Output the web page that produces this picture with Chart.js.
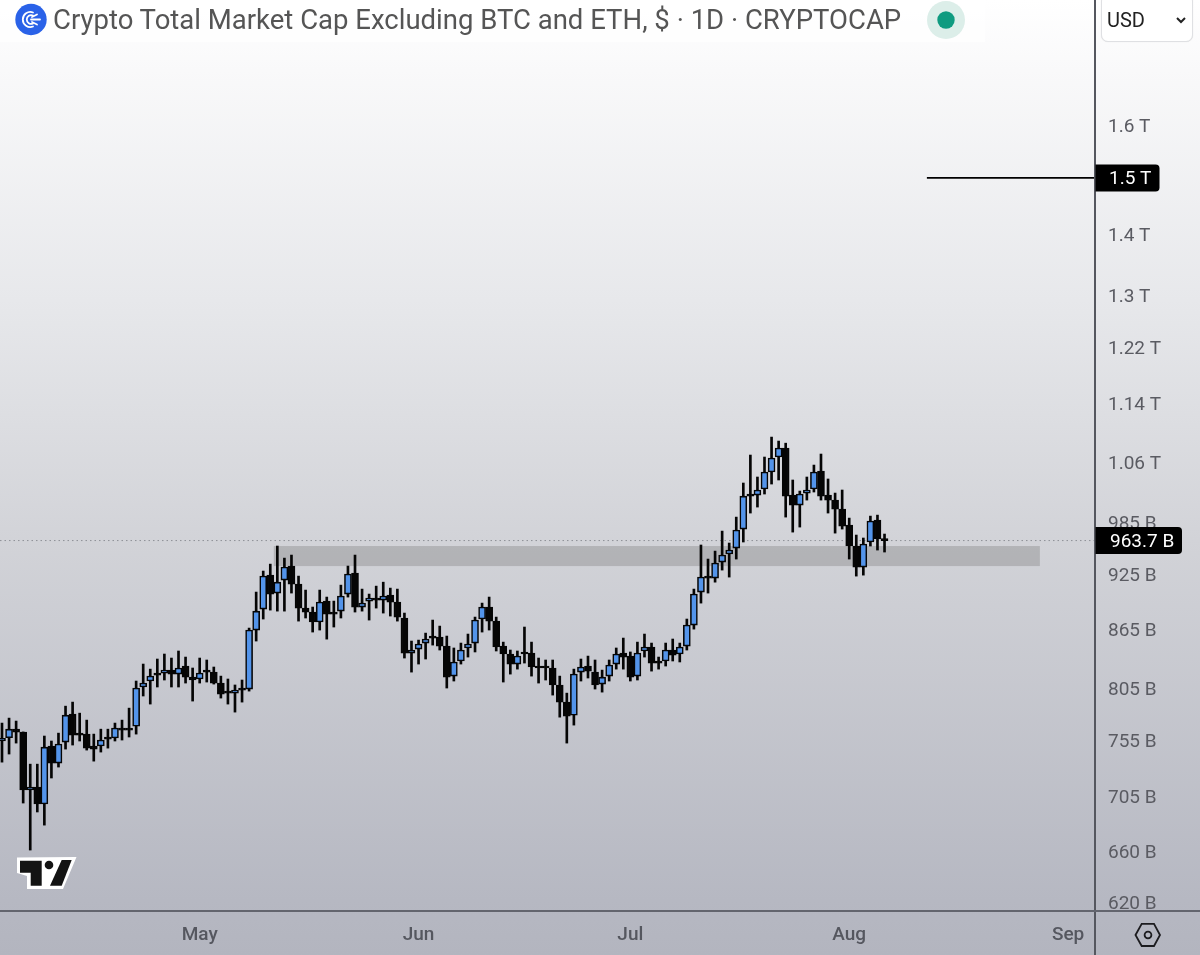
<!DOCTYPE html>
<html><head><meta charset="utf-8">
<script src="https://cdn.jsdelivr.net/npm/chart.js@4"></script>
<style>
html,body{margin:0;padding:0;width:1200px;height:955px;overflow:hidden}
body{position:relative;background:linear-gradient(180deg,#ffffff 0px,#f9f9fa 70px,#e7e8eb 300px,#d2d3d8 540px,#b6b8c2 900px,#b3b5bf 955px);font-family:Roboto,sans-serif}
canvas{position:absolute;left:0;top:0;display:block}
.ab{position:absolute}
#band{left:0;top:0;width:985px;height:42px;background:rgba(255,255,255,.65)}
#title{left:53px;top:3px;font-size:27.5px;line-height:34px;color:#555;white-space:nowrap}
#usd{left:1101px;top:-6px;width:90px;height:46px;background:#fff;border:1px solid #dfe0e3;border-radius:7px;box-shadow:0 0 1px #ddd}
#usdt{left:1107px;top:8px;font-size:20px;line-height:24px;color:#222}
#vline{left:1094px;top:0;width:1.5px;height:955px;background:#55575f}
#hline{left:0;top:910px;width:1200px;height:1.5px;background:#63656e}
</style></head><body>
<div class="ab" id="band"></div>
<div class="ab" id="vline"></div><div class="ab" id="hline"></div>
<div class="ab" id="usd"></div>
<canvas id="c" width="1200" height="955"></canvas>
<svg class="ab" style="left:0;top:0" width="1200" height="955" viewBox="0 0 1200 955">
  <circle cx="31" cy="19.5" r="15.7" fill="#2a62e8"/>
  <g fill="none" stroke="#fff" stroke-width="1.8" stroke-linecap="round">
    <path d="M33 12.5a7.5 7.5 0 1 0 0 14"/>
    <path d="M33 15.5a4.4 4.4 0 1 0 0 8"/>
    <path d="M31 19.500h9M32 17l5-2.500M32 22l5 2.500"/>
  </g>
  <circle cx="946" cy="20" r="19" fill="#dceee9"/><circle cx="946" cy="20" r="8.7" fill="#0f9b80"/>
  <path d="M1177 18l4 4 4-4" fill="none" stroke="#222" stroke-width="2"/>
  <path d="M17 857.5L76.500 857L63 889H27V876L17 873Z" fill="#fff"/>
  <path d="M20 860.700H41.700V885.700H30.700V872.700H20Z" fill="#131313"/>
  <circle cx="49" cy="865" r="4.300" fill="#131313"/>
  <path d="M61.700 860H71.700L61.700 885.700H50Z" fill="#131313"/>
  <path d="M1135.500 935L1141.700 923.800H1154L1160 935L1154 946H1141.700Z" fill="none" stroke="#1c1c1f" stroke-width="1.800"/>
  <circle cx="1148" cy="935" r="3.400" fill="none" stroke="#1c1c1f" stroke-width="1.800"/>
</svg>
<div class="ab" id="title">Crypto Total Market Cap Excluding BTC and ETH, $ · 1D · CRYPTOCAP</div>
<div class="ab" id="usdt">USD</div>
<script>
const opens=[754.6,757.6,765.6,762.9,710.8,713.4,698.8,750,734.5,753.6,779.8,761,761,750,750,758.3,757.4,766.6,766.6,768.4,806,811.9,818.8,819.8,822.8,818.8,826.9,815.8,813.9,821.8,820.8,809.9,801,800,804,804,864,886.4,923.9,903.9,918.3,934.2,913.8,887.5,883.2,872.5,895.1,883.2,884.2,902.8,926.2,888.6,895.1,898.4,896.2,901.7,894,876.8,840.1,844.2,850.4,856.6,856.6,847.3,816.8,832,845.3,850.4,875.7,888.6,873.5,847.3,839.1,828.9,840.1,840.1,825.9,825.9,824.9,808,791.3,778.8,820.8,826.9,820.8,808.9,816.8,828.9,840.1,837,816.8,842.2,846.3,831,832,843.2,839.1,847.3,869.3,905,922.8,920.6,938.7,948,954.9,977.3,1020,1018.7,1026.3,1047.8,1067.1,1078.8,1018.7,1006.3,1021.2,1026.3,1049,1018.7,1012.5,1001.4,982,957.3,933,962,988.1,965.5];
const highs=[771.3,776,773.2,763,733.6,733.6,759.2,754.6,761.9,787.4,791.3,780.7,774.1,761,765.6,765.6,771.3,774.1,785.5,811.9,828.9,823.8,834,839.1,835,842.2,836,824.9,835,833,825.9,816.8,813.9,808,812.9,866.1,905,928.5,936.4,957.3,943.3,946.8,922.8,907.2,888.6,907.2,899.5,895.1,912.7,934.2,946.8,908.3,902.8,911.6,916,909.4,908.3,882.1,852.5,853.5,860.8,874.6,868.2,857.7,845.3,850.4,859.8,877.8,892.9,899.5,877.8,851.4,843.2,842.2,867.2,851.4,835,833,833,816.8,800,823.8,834,837,833,822.8,833,845.3,855.6,841.2,851.4,859.8,850.4,836,850.4,854.6,850.4,875.7,908.3,958.5,942.2,951.4,974.9,960.8,991.7,1033.8,1069.7,1041.4,1067.1,1093.4,1088.1,1085.3,1037.6,1023.7,1041.4,1056.7,1071,1038.9,1021.2,1025,990.5,970.2,966.7,992.9,994.1,971.4];
const lows=[735.4,742.7,752.7,699.6,660.6,692,681,721.3,731,747.2,750.9,754.6,746.3,736.3,744.5,748.1,754.6,755.5,758.3,761,797.2,789.4,806,812.9,806,806,809.9,792.3,809.9,810.9,808.9,795.2,789.4,781.7,791.3,802,852.5,875.7,885.3,884.2,884.2,903.9,873.5,876.8,861.9,864,854.5,867.2,876.8,899.5,883.2,884.2,874.6,887.5,882.1,878.9,873.5,835,820.8,828.9,834,848.3,843.2,805,811.9,828.9,836,841.2,861.9,864,842.2,810.9,818.8,823.8,829.9,816.8,809.9,812.9,798.1,776.9,752.7,769.4,811.9,814.9,804,801,811.9,823.8,823.8,811.9,812.9,836,821.8,823.8,826.9,832,831,843.2,865,892.9,903.9,916,929.6,921.7,942.2,962,996.6,1003.9,1020,1032.5,1037.6,991.7,973.7,979.7,1012.5,1022.5,1012.5,996.6,972.5,977.3,942.2,922.8,923.9,957.3,952.6,950.3];
const closes=[757,765.6,762.9,710.8,713.4,698.8,749,734.5,751.8,778.8,760.1,760.1,748.1,747.2,755.5,756.4,766.6,764.7,764.7,805,809.9,816.8,817.8,822.8,818.8,824.9,815.8,812.9,819.8,820.8,809.9,799.1,800,803,803,864,884.2,922.8,902.8,916,933,913.8,887.5,883.2,872.5,894,881,881,900.6,925.1,888.6,892.9,898.4,896.2,900.6,894,877.8,840.1,843.2,849.4,854.6,855.6,847.3,815.8,831,843.2,849.4,874.6,888.6,873.5,846.3,839.1,828.9,837,839.1,825.9,824.9,824.9,808,791.3,777.9,818.8,825.9,821.8,808,815.8,827.9,839.1,836,815.8,840.1,846.3,829.9,829.9,843.2,838,846.3,869.3,902.8,921.7,920.6,937.6,946.8,952.6,976.1,1017.4,1017.4,1025,1047.8,1065.8,1078.8,1017.4,1006.3,1020,1025,1047.8,1017.4,1012.5,1001.4,980.9,957.3,933,959.6,986.9,965.5,963.7];
const yTickValues=[620,660,705,755,805,865,925,985,1060,1140,1220,1300,1400,1600];
const yTickLabels=["620 B","660 B","705 B","755 B","805 B","865 B","925 B","985 B","1.06 T","1.14 T","1.22 T","1.3 T","1.4 T","1.6 T"];
const monthDays=[28,59,89,120,151];
const monthLabels=["May","Jun","Jul","Aug","Sep"];
const lastPrice=963.7, lastPriceLabel="963.7 B";
const targetPrice=1500, targetLabel="1.5 T", targetStartDay=131;
const zoneTop=957.3, zoneBottom=934.2, zoneStartDay=38.5, zoneEndDay=147;
const dayMin=-0.283, dayMax=154.67, priceMin=614, priceMax=1863.8;

const BLUE='#5394ea', BLACK='#050505';
const upDown=opens.map((o,i)=>closes[i]>=o);
const annotations={
  id:'annotations',
  beforeDatasetsDraw(ch){
    const {ctx,scales:{x,y}}=ch;
    ctx.save();
    ctx.fillStyle='rgba(120,120,120,.34)';
    const t=y.getPixelForValue(zoneTop),b=y.getPixelForValue(zoneBottom);
    const l=x.getPixelForValue(zoneStartDay),r=x.getPixelForValue(zoneEndDay);
    ctx.fillRect(l,t,r-l,b-t);
    ctx.restore();
  },
  afterDraw(ch){
    const {ctx,scales:{y},chartArea}=ch;
    const tag=(v,txt,w,h,tx)=>{
      const py=y.getPixelForValue(v), x0=chartArea.right+1.5;
      ctx.save();
      ctx.fillStyle='#000';
      ctx.beginPath();
      ctx.roundRect(x0,py-h/2,w,h,[0,4,4,0]);
      ctx.fill();
      ctx.fillStyle='#fff';
      ctx.font='19px Roboto';
      ctx.textBaseline='middle';
      ctx.textAlign='left';
      ctx.fillText(txt,tx,py+1.5);
      ctx.restore();
    };
    tag(targetPrice,targetLabel,64,27,1109);
    tag(lastPrice,lastPriceLabel,86.5,27,1110);
  }
};
new Chart(document.getElementById('c'),{
  type:'bar',
  plugins:[annotations],
  data:{datasets:[
    {type:'bar',order:1,grouped:false,barThickness:7,minBarLength:2,
      data:opens.map((o,i)=>({x:i,y:[o,closes[i]]})),
      backgroundColor:opens.map((o,i)=>upDown[i]?BLUE:BLACK),
      borderColor:BLACK,borderWidth:1.6,borderSkipped:false},
    {type:'bar',order:2,grouped:false,barThickness:2,
      data:lows.map((l,i)=>({x:i,y:[l,highs[i]]})),
      backgroundColor:BLACK,borderWidth:0},
    {type:'line',order:3,data:[{x:targetStartDay,y:targetPrice},{x:dayMax,y:targetPrice}],
      borderColor:'#000',borderWidth:1.7,pointRadius:0,fill:false},
    {type:'line',order:4,data:[{x:dayMin,y:lastPrice},{x:dayMax,y:lastPrice}],
      borderColor:'#8d8f96',borderWidth:1,borderDash:[1.5,3],pointRadius:0,fill:false}
  ]},
  options:{
    responsive:false,animation:false,devicePixelRatio:1,
    layout:{padding:0,autoPadding:false},
    plugins:{legend:{display:false},tooltip:{enabled:false},title:{display:false}},
    scales:{
      x:{type:'linear',bounds:'data',min:dayMin,max:dayMax,offset:false,
        grid:{display:false,drawTicks:false},border:{display:false},
        afterBuildTicks(s){s.ticks=monthDays.map(v=>({value:v}));},
        afterFit(s){s.height=45;s.paddingLeft=0;s.paddingRight=0;},
        ticks:{autoSkip:false,maxRotation:0,padding:14,color:'#55575f',
          font:{family:'Roboto',size:19,weight:'500'},
          callback:v=>monthLabels[monthDays.indexOf(v)]}},
      y:{type:'logarithmic',position:'right',bounds:'data',min:priceMin,max:priceMax,
        grid:{display:false,drawTicks:false},border:{display:false},
        afterBuildTicks(s){s.ticks=yTickValues.map(v=>({value:v}));},
        afterFit(s){
          s.width=106;s.paddingTop=0;s.paddingBottom=0;
          if(!s._shifted){
            s._shifted=true;
            const draw=s.drawLabels;
            s.drawLabels=function(a){const c=this.ctx;c.save();c.translate(0,2);draw.call(this,a);c.restore();};
          }
        },
        ticks:{autoSkip:false,padding:14,crossAlign:'near',color:'#5a5b62',
          font:{family:'Roboto',size:19},
          callback:v=>yTickLabels[yTickValues.indexOf(v)]}}
    }
  }
});
</script>
</body></html>
